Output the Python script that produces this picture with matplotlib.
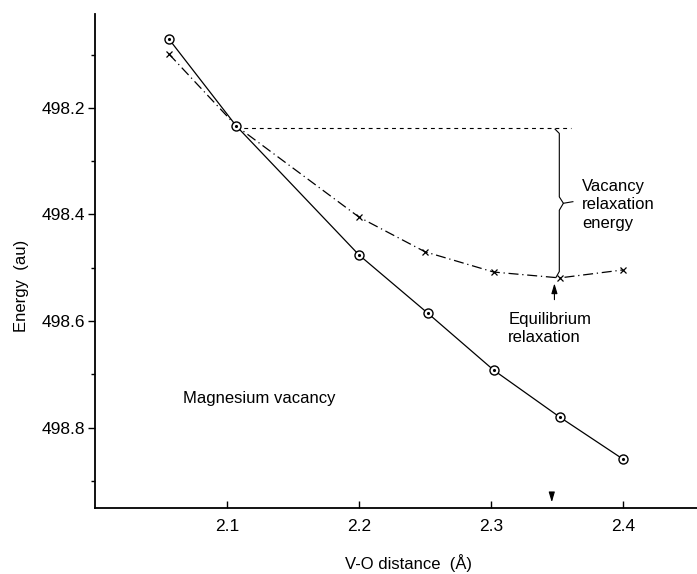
import matplotlib.pyplot as plt

# V-O distance (Angstrom) and energies (au, plotted downward)
dist_unrelaxed = [2.056, 2.107, 2.2, 2.252, 2.302, 2.352, 2.4]
energy_unrelaxed = [498.071, 498.234, 498.476, 498.585, 498.692, 498.780, 498.859]

dist_relaxed = [2.056, 2.107, 2.2, 2.25, 2.302, 2.352, 2.4]
energy_relaxed = [498.099, 498.234, 498.405, 498.470, 498.508, 498.519, 498.504]

x_ticks = [2.1, 2.2, 2.3, 2.4]
y_ticks = [498.2, 498.4, 498.6, 498.8]
y_minor = [498.1, 498.3, 498.5, 498.7, 498.9]

# reference level and equilibrium distance
e_ref = 498.238
d_eq = 2.352

plt.rcParams['font.family'] = ['Liberation Sans', 'DejaVu Sans']
plt.rcParams['font.size'] = 12

fig = plt.figure(figsize=(6.97, 5.74), dpi=100)
ax = fig.add_axes([0.1363, 0.1155, 0.8637, 0.8601])

# solid curve with dotted circles
ax.plot(dist_unrelaxed, energy_unrelaxed, color='black', lw=0.9,
        marker='o', ms=6.5, mfc='white', mec='black', mew=1.0, zorder=3)
ax.plot(dist_unrelaxed, energy_unrelaxed, ls='none', marker='.', ms=2.5,
        color='black', zorder=4)

# dash-dot curve with crosses (middle point shared with circle)
ax.plot(dist_relaxed, energy_relaxed, color='black', lw=0.9,
        ls=(0, (8, 3, 1, 3)), zorder=2)
ax.plot([d for i, d in enumerate(dist_relaxed) if i != 1],
        [e for i, e in enumerate(energy_relaxed) if i != 1],
        ls='none', marker='x', ms=4.5, mew=0.9, color='black', zorder=3)

# horizontal dashed reference
ax.plot([dist_unrelaxed[1], 2.3606], [e_ref, e_ref], color='black', lw=0.8,
        ls=(0, (3.5, 3.5)))

# curly brace for the relaxation energy
brace_x = [2.3485, 2.3517, 2.3517, 2.3548, 2.3517, 2.3517, 2.3492]
brace_y = [498.240, 498.248, 498.367, 498.379, 498.392, 498.507, 498.518]
ax.plot(brace_x, brace_y, color='black', lw=0.8)
ax.plot([2.3548, 2.362], [498.379, 498.376], color='black', lw=0.8)

ax.text(2.369, 498.382, 'Vacancy\nrelaxation\nenergy', ha='left', va='center',
        linespacing=1.3)

# equilibrium arrows
ax.annotate('', xy=(2.348, 498.524), xytext=(2.348, 498.565),
            arrowprops=dict(arrowstyle='-|>,head_length=0.5,head_width=0.15',
                            color='black', lw=0.8))
ax.text(2.313, 498.614, 'Equilibrium\nrelaxation', ha='left', va='center',
        linespacing=1.3)
ax.annotate('', xy=(2.346, 498.945), xytext=(2.346, 498.920),
            arrowprops=dict(arrowstyle='-|>,head_length=0.5,head_width=0.15',
                            color='black', lw=0.8))

ax.text(2.0667, 498.746, 'Magnesium vacancy', ha='left', va='center')

# axes
ax.set_xlim(2.0, 2.456)
ax.set_ylim(498.95, 498.024)
ax.set_xticks(x_ticks)
ax.set_xticklabels([str(t) for t in x_ticks])
ax.set_yticks(y_ticks)
ax.set_yticklabels([f'{t:.1f}' for t in y_ticks])
ax.set_yticks(y_minor, minor=True)
ax.tick_params(axis='both', labelsize=12.5)
ax.tick_params(axis='x', direction='in', length=5, width=1, pad=8)
ax.tick_params(axis='y', which='major', direction='out', length=5, width=1, pad=2)
ax.tick_params(axis='y', which='minor', direction='out', length=3, width=1)

for side in ['top', 'right']:
    ax.spines[side].set_visible(False)
for side in ['left', 'bottom']:
    ax.spines[side].set_linewidth(1.3)

ax.set_xlabel('V-O distance  (Å)')
ax.set_ylabel('Energy  (au)')
ax.xaxis.set_label_coords(0.52, -0.094)
ax.yaxis.set_label_coords(-0.11, 0.45)

plt.savefig('out.png', dpi=100)
